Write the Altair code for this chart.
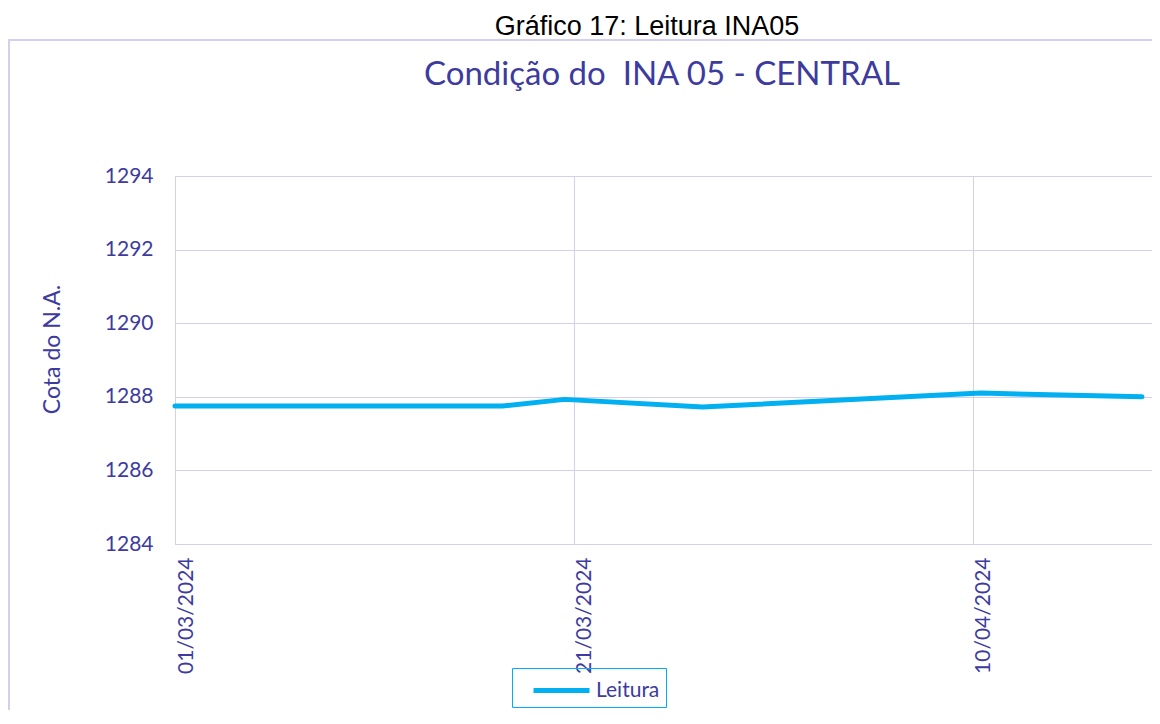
import altair as alt
import pandas as pd

# ---- data ----
dates = ["2024-03-01T00:00", "2024-03-17T10:00", "2024-03-20T13:00",
         "2024-03-27T11:00", "2024-04-10T10:00", "2024-04-18T12:00"]
cota = [1287.75, 1287.75, 1287.93, 1287.72, 1288.10, 1288.00]
series = ["Leitura"] * len(dates)

y_ticks = [1284, 1286, 1288, 1290, 1292, 1294]
x_tick_dates = [(2024, 3, 1), (2024, 3, 21), (2024, 4, 10)]
x_domain = [(2024, 3, 1), (2024, 4, 19)]

headline = "Gráfico 17: Leitura INA05"
chart_title = "Condição do \u00a0INA 05 - CENTRAL"
y_title = "Cota do N.A."

INDIGO = "#3d3b9e"
GRID = "#d3cfee"
LINE = "#00b0f0"
FONT = "Lato"

W, H = 977, 368
PAD = {"left": 167, "top": 168, "right": 0, "bottom": 166}

df = pd.DataFrame({"Data": dates, "Cota": cota, "Serie": series})


def dt(t):
    return alt.DateTime(year=t[0], month=t[1], date=t[2])


line = alt.Chart(df).mark_line(strokeWidth=5, strokeCap="round", strokeJoin="round").encode(
    x=alt.X("Data:T",
            scale=alt.Scale(domain=[dt(d) for d in x_domain], nice=False),
            axis=alt.Axis(values=[dt(d) for d in x_tick_dates], format="%d/%m/%Y",
                          labelAngle=270, labelAlign="right", labelBaseline="top",
                          labelPadding=13, ticks=False, title=None,
                          labelFont=FONT, labelFontSize=21, labelColor=INDIGO,
                          domainColor=GRID, gridColor=GRID, labelOverlap=False)),
    y=alt.Y("Cota:Q",
            scale=alt.Scale(domain=[1284, 1294], nice=False, zero=False),
            axis=alt.Axis(values=y_ticks, format="d", ticks=False, labelPadding=22,
                          labelFont=FONT, labelFontSize=21, labelColor=INDIGO,
                          domainColor=GRID, gridColor=GRID,
                          title=y_title, titleFont=FONT, titleFontSize=23,
                          titleFontWeight="normal", titleColor=INDIGO,
                          titleAngle=270, titleX=-123, titleY=173,
                          titleAlign="center", titleBaseline="middle")),
    color=alt.Color("Serie:N", scale=alt.Scale(range=[LINE]),
                    legend=alt.Legend(title=None, orient="none", legendX=337, legendY=492,
                                      symbolType="M-0.07,0H3.93", symbolSize=784,
                                      symbolStrokeWidth=5, symbolStrokeColor=LINE,
                                      labelFont=FONT, labelFontSize=21, labelColor=INDIGO,
                                      labelOffset=45, padding=6,
                                      strokeColor=LINE)),
)

one = pd.DataFrame({"k": [0]})

frame = alt.Chart(one).mark_rect(fill=None, stroke=GRID, strokeWidth=2).encode(
    x=alt.value(-166), x2=alt.value(W + 20),
    y=alt.value(-136), y2=alt.value(H + 200),
)

head = alt.Chart(one).mark_text(font="Liberation Sans", fontSize=27, color="#000000",
                                align="center", baseline="alphabetic").encode(
    x=alt.value(472), y=alt.value(-141), text=alt.value(headline))

ttl = alt.Chart(one).mark_text(font=FONT, fontSize=33, color=INDIGO,
                               align="center", baseline="alphabetic").encode(
    x=alt.value(487), y=alt.value(-91), text=alt.value(chart_title))

chart = alt.layer(frame, head, ttl, line).properties(
    width=W, height=H,
    autosize=alt.AutoSizeParams(type="none"),
    padding=PAD,
).configure_view(stroke=None).configure_legend(strokeWidth=2).configure(background="white")

chart.save("out.html", embed_options={"renderer": "svg", "actions": False})
